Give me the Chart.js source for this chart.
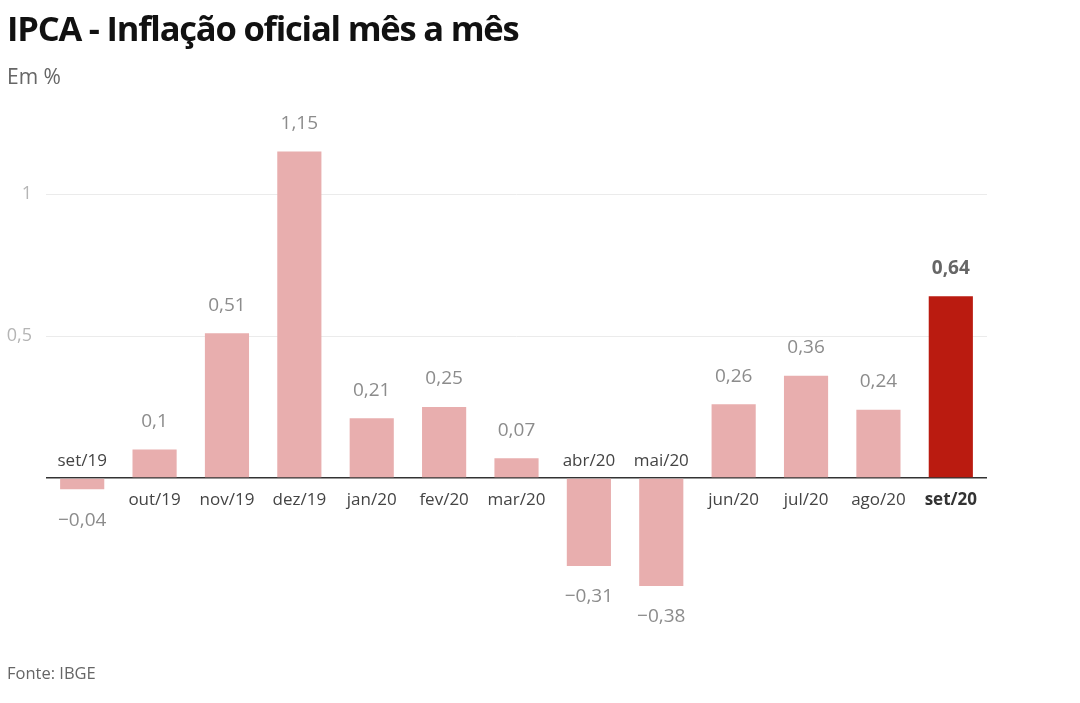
<!DOCTYPE html>
<html>
<head>
<meta charset="utf-8">
<script src="https://cdn.jsdelivr.net/npm/chart.js@4"></script>
<style>
    html, body { margin: 0; padding: 0; background: #fff; }
    #wrap { position: relative; width: 1080px; height: 703px; overflow: hidden; }
    #chart-box { position: absolute; left: 0; top: 0; width: 1080px; height: 703px; }
    .title {
        position: absolute; left: 7px; top: 4px;
        font: bold 34.5px "Open Sans", sans-serif; letter-spacing: -1.2px; color: #111;
    }
    .subtitle {
        position: absolute; left: 7px; top: 62px;
        font: 21px "Open Sans", sans-serif; color: #666;
    }
    .source {
        position: absolute; left: 7px; top: 661px;
        font: 16.5px "Open Sans", sans-serif; color: #666;
    }
</style>
</head>
<body>
<div id="wrap">
    <div id="chart-box"><canvas id="ipca-chart"></canvas></div>
    <div class="title">IPCA - Inflação oficial mês a mês</div>
    <div class="subtitle">Em %</div>
    <div class="source">Fonte: IBGE</div>
</div>
<script>
// Dados
const meses = ['set/19', 'out/19', 'nov/19', 'dez/19', 'jan/20', 'fev/20', 'mar/20',
               'abr/20', 'mai/20', 'jun/20', 'jul/20', 'ago/20', 'set/20'];
const ipca = [-0.04, 0.1, 0.51, 1.15, 0.21, 0.25, 0.07, -0.31, -0.38, 0.26, 0.36, 0.24, 0.64];
const yTicks = [0, 0.5, 1];

const PINK = 'rgb(232, 174, 174)';
const RED = 'rgb(186, 27, 16)';
const lastIdx = meses.length - 1;

function fmt(v) {
    return String(v).replace('.', ',').replace('-', '\u2212');
}

// Rótulos de valor e de mês junto da linha do zero
const barLabels = {
    id: 'barLabels',
    afterDatasetsDraw(chart) {
        const ctx = chart.ctx;
        const meta = chart.getDatasetMeta(0);
        const zero = chart.scales.y.getPixelForValue(0);
        ctx.save();
        ctx.textAlign = 'center';
        ctx.textBaseline = 'middle';
        meta.data.forEach(function(bar, i) {
            const v = ipca[i];
            const isLast = i === lastIdx;
            // valor
            ctx.font = (isLast ? 'bold ' : '') + '19px "Open Sans", sans-serif';
            ctx.fillStyle = isLast ? '#666' : '#8c8c8c';
            const vy = v >= 0 ? bar.y - 28 : bar.y + 31;
            ctx.fillText(fmt(v), bar.x, vy);
            // mês
            ctx.font = (isLast ? 'bold ' : '') + '17px "Open Sans", sans-serif';
            ctx.fillStyle = isLast ? '#333' : '#444';
            const my = v >= 0 ? zero + 22 : zero - 17;
            ctx.fillText(meses[i], bar.x, my);
        });
        ctx.restore();
    }
};

new Chart(document.getElementById('ipca-chart'), {
    type: 'bar',
    data: {
        labels: meses,
        datasets: [{
            data: ipca,
            backgroundColor: ipca.map(function(v, i) { return i === lastIdx ? RED : PINK; }),
            barPercentage: 0.61,
            categoryPercentage: 1.0
        }]
    },
    options: {
        responsive: true,
        maintainAspectRatio: false,
        animation: false,
        layout: { padding: { left: 0, right: 93, top: 110, bottom: 63 } },
        plugins: {
            legend: { display: false },
            tooltip: { enabled: false }
        },
        scales: {
            x: { display: false },
            y: {
                min: -0.5704,
                max: 1.2958,
                border: { display: false },
                afterBuildTicks: function(scale) {
                    scale.ticks = yTicks.map(function(v) { return { value: v }; });
                },
                afterFit: function(scale) { scale.width = 46; },
                grid: {
                    drawTicks: false,
                    color: function(c) { return c.tick && c.tick.value === 0 ? '#333' : '#ebebeb'; },
                    lineWidth: function(c) { return c.tick && c.tick.value === 0 ? 1.5 : 1; }
                },
                ticks: {
                    padding: 14,
                    color: '#b5b5b5',
                    font: { family: 'Open Sans', size: 18 },
                    callback: function(value) { return value === 0 ? '' : fmt(value); }
                }
            }
        }
    },
    plugins: [barLabels]
});
</script>
</body>
</html>
